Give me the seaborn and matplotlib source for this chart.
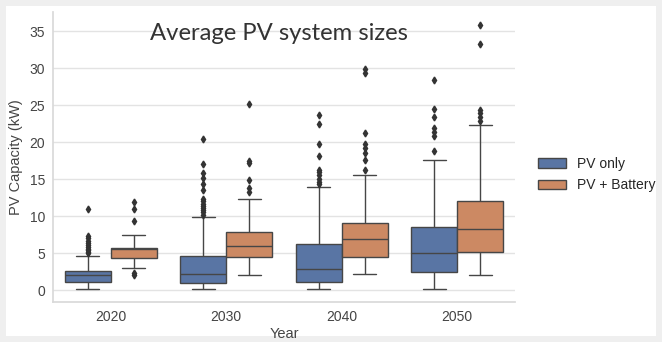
import pandas as pd
import seaborn as sns
import matplotlib.pyplot as plt
from matplotlib.patches import Rectangle

years = ["2020", "2030", "2040", "2050"]
systems = ["PV only", "PV + Battery"]

# Box summaries per year (kW): lower whisker, Q1, median, Q3, upper whisker
pv_only_low = [0.18, 0.20, 0.22, 0.18]
pv_only_q1 = [1.10, 1.00, 1.04, 2.40]
pv_only_med = [2.00, 2.20, 2.85, 5.00]
pv_only_q3 = [2.60, 4.60, 6.30, 8.55]
pv_only_high = [4.60, 9.90, 13.90, 17.60]
pv_only_fliers = [
    [5.0, 5.2, 5.4, 5.6, 5.8, 6.1, 6.4, 6.7, 7.0, 7.3, 10.9],
    [10.2, 10.5, 10.8, 11.1, 11.4, 11.7, 12.0, 12.3, 13.5, 14.4, 15.1, 15.8, 17.1, 20.4],
    [14.3, 14.6, 15.0, 15.5, 15.9, 16.2, 18.1, 19.8, 22.4, 23.6],
    [18.8, 20.8, 21.4, 21.9, 23.4, 24.5, 28.4],
]

pv_bat_low = [3.00, 2.00, 2.15, 2.10]
pv_bat_q1 = [4.40, 4.45, 4.50, 5.10]
pv_bat_med = [5.50, 5.95, 6.85, 8.30]
pv_bat_q3 = [5.70, 7.80, 9.10, 12.00]
pv_bat_high = [7.50, 12.30, 15.60, 22.30]
pv_bat_fliers = [
    [2.0, 2.3, 9.4, 10.9, 11.9],
    [13.3, 13.8, 14.9, 17.2, 17.5, 25.2],
    [16.2, 17.6, 18.5, 19.2, 19.8, 21.2, 29.3, 29.9],
    [22.9, 23.4, 23.9, 24.3, 33.3, 35.8],
]


def sample_from_summary(low, q1, med, q3, high, fliers):
    """Sample whose quartiles, whisker ends and outliers equal the summary."""
    lo_f = [f for f in fliers if f < q1]
    hi_f = [f for f in fliers if f > q3]
    a = max(1 + len(lo_f), 1 + len(hi_f))
    return (lo_f + [low] * (a - len(lo_f)) + [q1] * a + [med]
            + [q3] * a + [high] * (a - len(hi_f)) + hi_f)


rows = []
summaries = {
    "PV only": (pv_only_low, pv_only_q1, pv_only_med, pv_only_q3, pv_only_high, pv_only_fliers),
    "PV + Battery": (pv_bat_low, pv_bat_q1, pv_bat_med, pv_bat_q3, pv_bat_high, pv_bat_fliers),
}
for system, (lo, q1, md, q3, hi, fl) in summaries.items():
    for i, year in enumerate(years):
        for v in sample_from_summary(lo[i], q1[i], md[i], q3[i], hi[i], fl[i]):
            rows.append({"Year": year, "PV Capacity (kW)": v, "System": system})
df = pd.DataFrame(rows)

sns.set_theme(style="whitegrid")
plt.rcParams["font.family"] = ["Liberation Sans", "DejaVu Sans"]

fig = plt.figure(figsize=(6.62, 3.42), dpi=100, facecolor="#efefef")
# white card on the grey page
fig.patches.append(Rectangle((6 / 662, 6 / 342), 650 / 662, 330 / 342,
                             transform=fig.transFigure, facecolor="white",
                             edgecolor="none", zorder=-10))
ax = fig.add_axes([53 / 662, 1 - 302 / 342, 462 / 662, 290 / 342])
ax.set_facecolor("white")

line_grey = "#464646"
sns.boxplot(data=df, x="Year", y="PV Capacity (kW)", hue="System",
            order=years, hue_order=systems, ax=ax,
            palette=["#4C72B0", "#DD8452"], linecolor=line_grey,
            flierprops={"marker": "d", "markersize": 3.5,
                        "markerfacecolor": "#333333", "markeredgecolor": "#333333"})

sns.despine(ax=ax)
for side in ("left", "bottom"):
    ax.spines[side].set_color("#d9d9d9")
ax.grid(axis="y", color="#e3e3e3", linewidth=1)
ax.grid(axis="x", visible=False)
ax.set_yticks([0, 5, 10, 15, 20, 25, 30, 35])
ax.tick_params(axis="both", labelsize=10, colors="#444444", length=0)
ax.tick_params(axis="y", pad=5.5)
ax.tick_params(axis="x", pad=6)
ax.set_xlabel("Year", fontsize=10.5, color="#444444", labelpad=2)
ax.set_ylabel("PV Capacity (kW)", fontsize=10.5, color="#444444", labelpad=5)

handles, labels = ax.get_legend_handles_labels()
ax.legend(handles, labels, loc="center left", bbox_to_anchor=(538 / 662, 1 - 174.5 / 342),
          bbox_transform=fig.transFigure, frameon=False, fontsize=10,
          borderpad=0, borderaxespad=0, handlelength=2.0, handleheight=0.7,
          handletextpad=0.8, labelspacing=0.55)

fig.text(279 / 662, 1 - 33 / 342, "Average PV system sizes", ha="center", va="center",
         fontsize=17.2, family=["Lato", "DejaVu Sans"], color="#333333")

fig.savefig("out.png", dpi=100, facecolor=fig.get_facecolor())
